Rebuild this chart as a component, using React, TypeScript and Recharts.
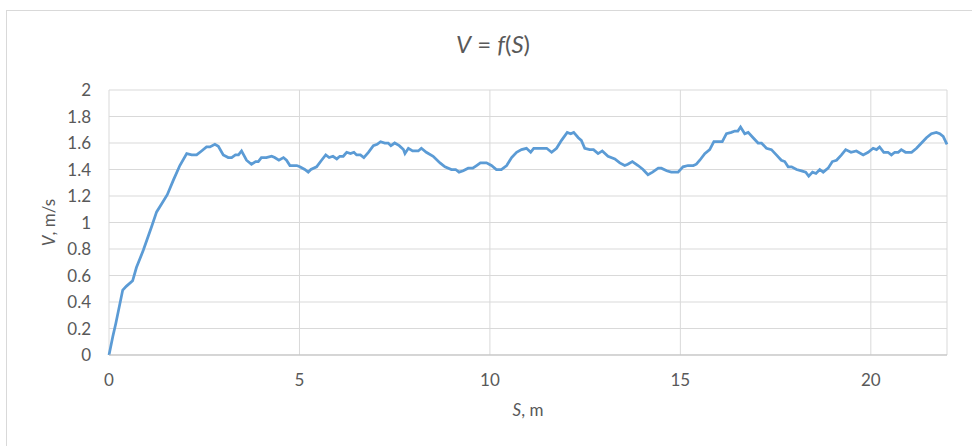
import { LineChart, Line, XAxis, YAxis, CartesianGrid, Label } from 'recharts';

// distance S, m
const sValues = [
  0, 0.1, 0.18, 0.36, 0.46, 0.62, 0.72, 0.9, 1.12, 1.25,
  1.38, 1.53, 1.69, 1.86, 2.04, 2.17, 2.3, 2.43, 2.56, 2.65,
  2.78, 2.87, 3.0, 3.13, 3.22, 3.32, 3.4, 3.48, 3.61, 3.74,
  3.85, 3.92, 4.0, 4.13, 4.27, 4.35, 4.46, 4.58, 4.66, 4.75,
  4.93, 5.01, 5.14, 5.23, 5.3, 5.45, 5.58, 5.69, 5.78, 5.88,
  5.98, 6.06, 6.15, 6.24, 6.34, 6.43, 6.5, 6.6, 6.69, 6.81,
  6.94, 7.04, 7.13, 7.24, 7.33, 7.4, 7.5, 7.62, 7.73, 7.77,
  7.86, 7.97, 8.12, 8.2, 8.33, 8.51, 8.69, 8.82, 8.99, 9.1,
  9.19, 9.3, 9.43, 9.55, 9.65, 9.75, 9.91, 10.04, 10.17, 10.3,
  10.44, 10.57, 10.7, 10.83, 10.96, 11.07, 11.15, 11.22, 11.49, 11.62,
  11.75, 11.88, 12.03, 12.12, 12.2, 12.32, 12.4, 12.49, 12.62, 12.72,
  12.84, 12.95, 13.1, 13.28, 13.41, 13.54, 13.62, 13.74, 13.89, 14.02,
  14.15, 14.27, 14.42, 14.5, 14.64, 14.76, 14.94, 15.07, 15.2, 15.34,
  15.42, 15.51, 15.64, 15.77, 15.88, 15.99, 16.1, 16.21, 16.34, 16.43,
  16.51, 16.58, 16.69, 16.78, 16.91, 17.04, 17.13, 17.26, 17.39, 17.52,
  17.65, 17.74, 17.83, 17.92, 18.05, 18.18, 18.29, 18.37, 18.47, 18.56,
  18.66, 18.75, 18.88, 18.99, 19.1, 19.23, 19.34, 19.48, 19.62, 19.8,
  19.93, 20.06, 20.15, 20.23, 20.34, 20.45, 20.54, 20.63, 20.72, 20.8,
  20.91, 21.07, 21.2, 21.33, 21.46, 21.59, 21.72, 21.81, 21.9, 22.0,
];

// speed V, m/s
const vValues = [
  0, 0.14, 0.24, 0.49, 0.52, 0.56, 0.66, 0.79, 0.97, 1.08,
  1.14, 1.21, 1.32, 1.43, 1.52, 1.51, 1.51, 1.54, 1.57, 1.57,
  1.59, 1.575, 1.51, 1.49, 1.49, 1.51, 1.51, 1.54, 1.47, 1.44,
  1.46, 1.46, 1.49, 1.49, 1.5, 1.49, 1.47, 1.49, 1.47, 1.43,
  1.43, 1.42, 1.4, 1.38, 1.4, 1.42, 1.47, 1.51, 1.49, 1.5,
  1.48, 1.5, 1.5, 1.53, 1.52, 1.53, 1.51, 1.51, 1.49, 1.53,
  1.58, 1.59, 1.61, 1.6, 1.6, 1.58, 1.6, 1.58, 1.55, 1.52,
  1.56, 1.54, 1.54, 1.56, 1.53, 1.5, 1.45, 1.42, 1.4, 1.4,
  1.38, 1.39, 1.41, 1.41, 1.43, 1.45, 1.45, 1.43, 1.4, 1.4,
  1.43, 1.49, 1.53, 1.55, 1.56, 1.53, 1.56, 1.56, 1.56, 1.53,
  1.56, 1.62, 1.68, 1.67, 1.68, 1.64, 1.62, 1.56, 1.55, 1.55,
  1.52, 1.54, 1.5, 1.48, 1.45, 1.43, 1.44, 1.46, 1.43, 1.4,
  1.36, 1.38, 1.41, 1.41, 1.39, 1.38, 1.38, 1.42, 1.43, 1.43,
  1.44, 1.47, 1.52, 1.55, 1.61, 1.61, 1.61, 1.67, 1.68, 1.69,
  1.69, 1.72, 1.67, 1.68, 1.64, 1.6, 1.6, 1.56, 1.55, 1.51,
  1.47, 1.46, 1.42, 1.42, 1.4, 1.39, 1.38, 1.35, 1.38, 1.37,
  1.4, 1.38, 1.41, 1.46, 1.47, 1.51, 1.55, 1.53, 1.54, 1.51,
  1.53, 1.56, 1.55, 1.57, 1.53, 1.53, 1.51, 1.53, 1.53, 1.55,
  1.53, 1.53, 1.56, 1.6, 1.64, 1.67, 1.68, 1.67, 1.65, 1.59,
];

const xTicks = [0, 5, 10, 15, 20];
const yTicks = [0, 0.2, 0.4, 0.6, 0.8, 1, 1.2, 1.4, 1.6, 1.8, 2];

const data = sValues.map((s, i) => ({ s, v: vValues[i] }));

const FONT = 'Lato, "Open Sans", sans-serif';
const TEXT = '#595959';
const GRID = '#d9d9d9';

function XTitle({ viewBox }: any) {
  const cx = viewBox.x + viewBox.width / 2;
  return (
    <text x={cx} y={416} textAnchor="middle" fill={TEXT} fontSize={17} fontFamily={FONT}>
      <tspan fontStyle="italic">S</tspan>, m
    </text>
  );
}

function YTitle({ viewBox }: any) {
  const cy = viewBox.y + viewBox.height / 2;
  const cx = 55;
  return (
    <text
      x={cx}
      y={cy}
      textAnchor="middle"
      fill={TEXT}
      fontSize={17}
      fontFamily={FONT}
      transform={`rotate(-90 ${cx} ${cy})`}
    >
      <tspan fontStyle="italic">V</tspan>, m/s
    </text>
  );
}

export default function App() {
  return (
    <div
      style={{
        position: 'absolute',
        left: 0,
        top: 0,
        width: 972,
        height: 446,
        overflow: 'hidden',
        background: '#fff',
      }}
    >
      <div
        style={{
          position: 'absolute',
          left: 6,
          top: 10,
          width: 1000,
          height: 500,
          border: `1px solid ${GRID}`,
        }}
      />
      <div
        style={{
          position: 'absolute',
          left: 0,
          width: 986,
          top: 30,
          textAlign: 'center',
          fontFamily: FONT,
          fontSize: 24,
          lineHeight: 1.2,
          color: TEXT,
          whiteSpace: 'pre',
        }}
      >
        <i>V</i> = <i>f</i>(<i>S</i>)
      </div>
      <div style={{ position: 'absolute', left: 0, top: 0 }}>
        <LineChart
          width={972}
          height={446}
          data={data}
          margin={{ top: 90, right: 25, bottom: 51, left: 49 }}
        >
          <CartesianGrid stroke={GRID} strokeWidth={1} />
          <XAxis
            dataKey="s"
            type="number"
            domain={[0, 22]}
            ticks={xTicks}
            height={40}
            tickSize={0}
            tickMargin={19}
            axisLine={{ stroke: '#bfbfbf', strokeWidth: 1 }}
            tick={{ fill: TEXT, fontSize: 17, fontFamily: FONT }}
          >
            <Label content={<XTitle />} />
          </XAxis>
          <YAxis
            type="number"
            domain={[0, 2]}
            ticks={yTicks}
            width={60}
            tickSize={0}
            tickMargin={18}
            axisLine={false}
            tick={{ fill: TEXT, fontSize: 17, fontFamily: FONT }}
          >
            <Label content={<YTitle />} />
          </YAxis>
          <Line
            type="linear"
            dataKey="v"
            stroke="#5b9bd5"
            strokeWidth={2.75}
            dot={false}
            activeDot={false}
            isAnimationActive={false}
          />
        </LineChart>
      </div>
    </div>
  );
}
